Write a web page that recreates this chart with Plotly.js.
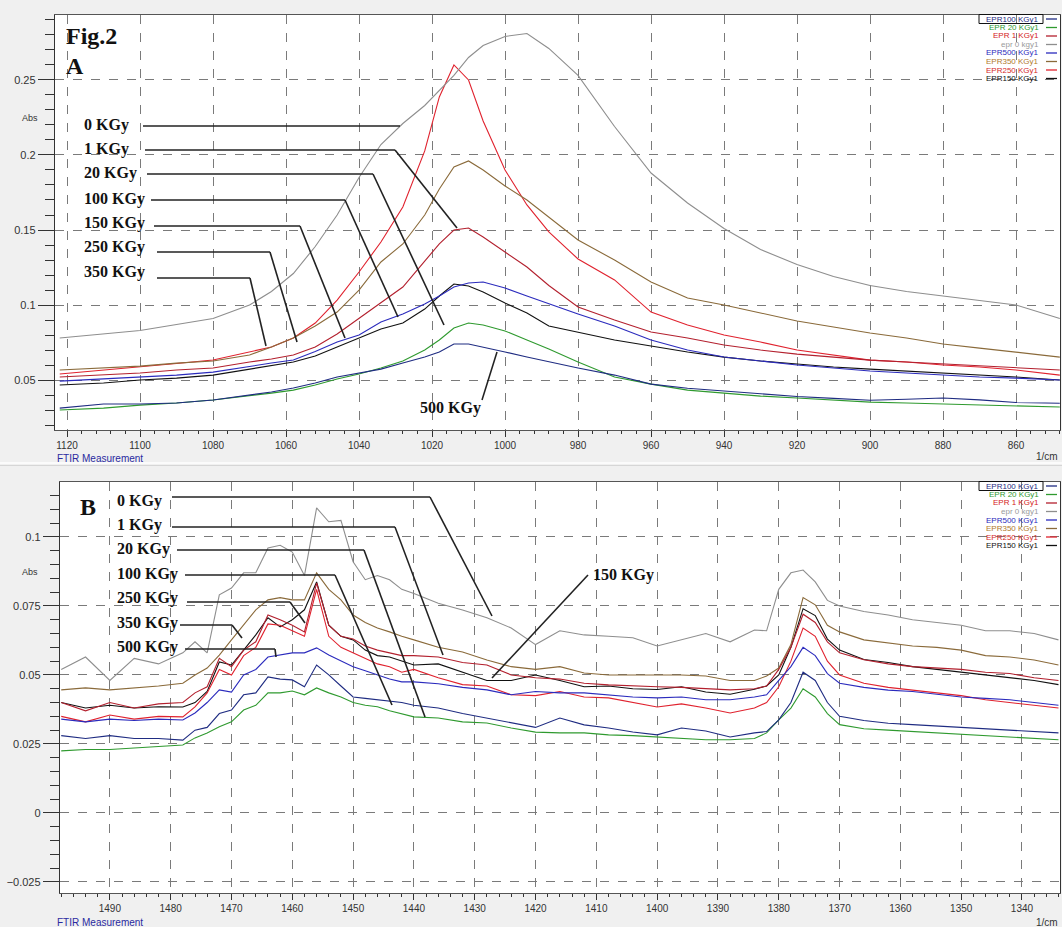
<!DOCTYPE html>
<html><head><meta charset="utf-8">
<script src="https://cdn.plot.ly/plotly-3.0.1.min.js"></script>
<style>html,body{margin:0;padding:0;background:#f0f0f0;}#chart{width:1062px;height:927px;}</style>
</head><body><div id="chart"></div>
<script>
// ---------- Panel A data (wavenumber 1/cm, absorbance) ----------
const wavenumberA = [1122,1110,1100,1090,1080,1070,1064,1058,1052,1046,1040,1034,1028,1022,1018,1014,1010,1006,1000,994,988,980,970,960,950,940,930,920,910,900,890,880,870,860,848];
const absA_0   = [0.078,0.081,0.083,0.087,0.091,0.100,0.109,0.121,0.139,0.160,0.185,0.207,0.221,0.233,0.243,0.253,0.265,0.273,0.279,0.281,0.271,0.253,0.219,0.188,0.168,0.151,0.137,0.127,0.119,0.113,0.109,0.106,0.103,0.100,0.091];
const absA_1   = [0.052,0.0533,0.0547,0.0567,0.058,0.062,0.064,0.0667,0.072,0.0807,0.0913,0.1013,0.112,0.1293,0.1407,0.150,0.1513,0.1453,0.1353,0.1253,0.113,0.0987,0.090,0.082,0.078,0.0733,0.070,0.0673,0.0653,0.0633,0.062,0.0607,0.0593,0.058,0.0567];
const absA_20  = [0.030,0.0313,0.0333,0.0347,0.0367,0.0393,0.0413,0.0433,0.0467,0.0507,0.054,0.058,0.0627,0.070,0.0767,0.0847,0.088,0.0867,0.0827,0.0767,0.0707,0.062,0.052,0.0473,0.0433,0.0413,0.0393,0.038,0.0367,0.0353,0.0347,0.034,0.0333,0.0327,0.032];
const absA_100 = [0.0313,0.034,0.034,0.0347,0.0367,0.040,0.042,0.0447,0.048,0.052,0.0547,0.0573,0.0613,0.0653,0.0687,0.074,0.074,0.072,0.0687,0.0653,0.062,0.058,0.0533,0.0473,0.0445,0.0425,0.0405,0.039,0.0378,0.0365,0.0372,0.038,0.0368,0.035,0.0345];
const absA_150 = [0.0467,0.048,0.050,0.0513,0.0533,0.0573,0.0593,0.062,0.066,0.072,0.078,0.084,0.088,0.0973,0.106,0.114,0.1127,0.1087,0.1013,0.0947,0.086,0.082,0.0767,0.0727,0.0687,0.0653,0.0627,0.0607,0.0587,0.0573,0.056,0.0547,0.0533,0.052,0.050];
const absA_250 = [0.054,0.0565,0.0587,0.061,0.0633,0.0687,0.072,0.078,0.088,0.1033,0.122,0.142,0.1653,0.2027,0.2387,0.260,0.250,0.2227,0.190,0.1667,0.1487,0.1307,0.1167,0.0953,0.0867,0.080,0.0753,0.070,0.0667,0.0633,0.062,0.060,0.0587,0.0567,0.0533];
const absA_350 = [0.0567,0.058,0.0593,0.0613,0.0627,0.0667,0.072,0.078,0.086,0.0953,0.110,0.1287,0.1407,0.160,0.1773,0.192,0.196,0.190,0.1793,0.170,0.1587,0.1433,0.130,0.1153,0.1047,0.100,0.0947,0.0893,0.0853,0.0813,0.078,0.074,0.0713,0.0687,0.0653];
const absA_500 = [0.0493,0.0507,0.052,0.0533,0.0553,0.0593,0.0613,0.0633,0.069,0.0753,0.080,0.0887,0.094,0.1007,0.106,0.112,0.1147,0.1153,0.1113,0.106,0.1007,0.094,0.086,0.0767,0.070,0.0653,0.0627,0.060,0.058,0.056,0.0547,0.0533,0.052,0.0513,0.050];

// ---------- Panel B data ----------
const wavenumberB = [1498,1494,1490,1486,1482,1478,1476,1474,1472,1470,1468,1466,1464,1462,1460,1458,1456,1454,1452,1450,1448,1446,1444,1442,1440,1436,1432,1428,1424,1420,1416,1412,1408,1404,1400,1396,1392,1388,1384,1382,1380,1378,1376,1374,1372,1370,1366,1362,1358,1354,1350,1346,1342,1338,1334];
const absB_0   = [0.052,0.0565,0.048,0.056,0.054,0.058, 0.062,0.058,0.079,0.0815,0.087,0.087,0.096,0.097,0.0945,0.086,0.1105,0.1055,0.106,0.091,0.0845,0.086,0.0845,0.081,0.0795, 0.076,0.0735,0.0707,0.067,0.061,0.066,0.0645,0.064,0.0635,0.0605,0.0627,0.065,0.062,0.0663, 0.066,0.081,0.087,0.088,0.0837,0.077,0.075, 0.073,0.0717,0.070,0.069,0.068,0.066,0.066,0.065,0.0627];
const absB_1   = [0.040,0.037,0.040,0.038,0.0395,0.040, 0.0435,0.0457,0.056,0.053,0.059,0.062,0.0717,0.070,0.068,0.0656,0.0833,0.068,0.064,0.063,0.0605,0.059,0.058,0.057,0.057, 0.0565,0.0545,0.0536,0.050,0.049,0.0485,0.047,0.0464,0.046,0.0457,0.0455,0.045,0.0446,0.045, 0.046,0.052,0.060,0.072,0.069,0.062,0.058, 0.0555,0.054,0.053,0.0525,0.052,0.051,0.0505,0.049,0.048];
const absB_20  = [0.0225,0.023,0.023,0.0235,0.024,0.0246, 0.0272,0.029,0.0312,0.033,0.0373,0.039,0.0435,0.0435,0.0442,0.0428,0.0453,0.0435,0.042,0.040,0.039,0.0385,0.037,0.036,0.0348, 0.0344,0.033,0.0326,0.0308,0.0293,0.029,0.029,0.0283,0.028,0.0275,0.0272,0.0265,0.0265,0.027, 0.029,0.0337,0.038,0.045,0.042,0.036,0.032, 0.0305,0.030,0.0295,0.029,0.0285,0.028,0.0275,0.027,0.0265];
const absB_100 = [0.028,0.027,0.028,0.027,0.027,0.0264, 0.030,0.031,0.036,0.0373,0.0428,0.0435,0.0493,0.0485,0.0482,0.0457,0.0536,0.050,0.046,0.042,0.0415,0.041,0.0405,0.040,0.039, 0.038,0.036,0.0344,0.0326,0.031,0.0344,0.0319,0.0308,0.0293,0.0283,0.0308,0.0297,0.0275,0.029, 0.0295,0.0337,0.040,0.051,0.048,0.040,0.035, 0.0335,0.0325,0.032,0.0315,0.031,0.0305,0.030,0.0295,0.029];
const absB_150 = [0.040,0.038,0.039,0.038,0.0385,0.0384, 0.040,0.044,0.0547,0.0536,0.059,0.0645,0.0707,0.0674,0.070,0.0736,0.0837,0.068,0.064,0.0627,0.059,0.057,0.0565,0.055,0.0536, 0.054,0.051,0.048,0.048,0.050,0.048,0.0457,0.046,0.045,0.0447,0.0457,0.0438,0.043,0.0448, 0.046,0.050,0.060,0.074,0.0715,0.063,0.059, 0.0556,0.0545,0.053,0.052,0.051,0.050,0.049,0.048,0.0465];
const absB_250 = [0.035,0.033,0.0355,0.034,0.035,0.0348, 0.0384,0.0435,0.052,0.050,0.057,0.060,0.0685,0.068,0.066,0.064,0.081,0.064,0.060,0.058,0.056,0.054,0.053,0.051,0.052, 0.049,0.0465,0.046,0.0428,0.0425,0.044,0.042,0.0417,0.040,0.0384,0.0395,0.038,0.0362,0.038, 0.040,0.0457,0.055,0.067,0.064,0.055,0.050, 0.047,0.0455,0.0445,0.0435,0.0425,0.041,0.040,0.039,0.038];
const absB_350 = [0.0446,0.0453,0.0446,0.0453,0.046,0.047, 0.050,0.0525,0.0572,0.0627,0.068,0.0736,0.0772,0.078,0.0772,0.0772,0.087,0.081,0.0772,0.0717,0.069,0.067,0.0656,0.064,0.0627, 0.060,0.0583,0.0554,0.053,0.052,0.053,0.0507,0.050,0.050,0.050,0.050,0.0496,0.048,0.048, 0.0496,0.0525,0.061,0.078,0.0754,0.068,0.0656, 0.0627,0.0616,0.0605,0.060,0.059,0.057,0.0565,0.0554,0.0536];
const absB_500 = [0.034,0.033,0.034,0.0335,0.034,0.0337, 0.0362,0.040,0.0446,0.0438,0.050,0.052,0.0565,0.0572,0.058,0.058,0.0598,0.0572,0.055,0.053,0.0515,0.050,0.0485,0.0475,0.0475, 0.0468,0.0455,0.0446,0.0428,0.044,0.0435,0.0435,0.0428,0.042,0.0417,0.042,0.041,0.041,0.042, 0.0428,0.048,0.053,0.060,0.057,0.0505,0.047, 0.0455,0.0445,0.044,0.043,0.042,0.0415,0.041,0.040,0.039];

// ---------- labels ----------
const legendLabels = ['EPR100 KGy1','EPR 20 KGy1','EPR 1 KGy1','epr 0 kgy1','EPR500 KGy1','EPR350 KGy1','EPR250 KGy1','EPR150 KGy1'];
const doseLabelsA = ['0 KGy','1 KGy','20 KGy','100 KGy','150 KGy','250 KGy','350 KGy','500 KGy'];
const doseLabelsB = ['0 KGy','1 KGy','20 KGy','100 KGy','250 KGy','350 KGy','500 KGy','150 KGy'];

// ---------- styling (legend order) ----------
const seriesStyle = [
  {a: absA_100, b: absB_100, color:'#1f2c82', text:'#1f2c82'},
  {a: absA_20,  b: absB_20,  color:'#2f9a2f', text:'#2f9a2f'},
  {a: absA_1,   b: absB_1,   color:'#b3202e', text:'#d42222'},
  {a: absA_0,   b: absB_0,   color:'#8e8e8e', text:'#9a9a9a'},
  {a: absA_500, b: absB_500, color:'#2b2bbd', text:'#2b2bbd'},
  {a: absA_350, b: absB_350, color:'#8a6a3a', text:'#b07a2e'},
  {a: absA_250, b: absB_250, color:'#e0222e', text:'#d42a2a'},
  {a: absA_150, b: absB_150, color:'#111111', text:'#111111'}
];

const W = 1062, H = 927;
const px = x => x / W, py = y => 1 - y / H;

const traces = [];
for (let k = seriesStyle.length - 1; k >= 0; k--) {
  const s = seriesStyle[k];
  traces.push({x: wavenumberA, y: s.a, xaxis:'x', yaxis:'y', type:'scatter', mode:'lines', name: legendLabels[k],
    line:{color:s.color, width:1.1}, showlegend:false, hoverinfo:'skip'});
  traces.push({x: wavenumberB, y: s.b, xaxis:'x2', yaxis:'y2', type:'scatter', mode:'lines', name: legendLabels[k],
    line:{color:s.color, width:1.1}, showlegend:false, hoverinfo:'skip'});
}

const tickFont = {family:'Liberation Sans, Arial, sans-serif', size:10, color:'#333'};
function xAxis(domain, range, dtick, minorDtick, anchor) {
  return {domain, range, anchor, tickmode:'linear', tick0:0, dtick, ticks:'outside', ticklen:6, tickwidth:1, tickcolor:'#333',
    minor:{ticks:'outside', ticklen:3, tickcolor:'#333', tickmode:'linear', tick0:0, dtick:minorDtick, showgrid:false},
    showgrid:true, gridcolor:'#7a7a7a', griddash:'dash', gridwidth:1, zeroline:false,
    showline:true, linecolor:'#555', linewidth:1, mirror:true, tickfont:tickFont, fixedrange:true};
}
function yAxis(domain, range, dtick, minorDtick, anchor) {
  return {domain, range, anchor, tickmode:'linear', tick0:0, dtick, ticks:'outside', ticklen:16, tickwidth:1, tickcolor:'#333',
    minor:{ticks:'outside', ticklen:9, tickcolor:'#333', tickmode:'linear', tick0:0, dtick:minorDtick, showgrid:false},
    showgrid:true, gridcolor:'#7a7a7a', griddash:'dash', gridwidth:1, zeroline:false,
    showline:true, linecolor:'#333', linewidth:1.2, mirror:true, tickfont:{...tickFont, size:11}, fixedrange:true};
}

// leader lines (pixel positions of the figure)
const leadersA = [
  [[143,126],[400,126]],
  [[145,150],[395,150],[457,228]],
  [[147,174],[373,174],[444,325]],
  [[151,200],[345,200],[398,317]],
  [[154,226],[300,226],[345,338]],
  [[157,252],[270,252],[297,342]],
  [[157,278],[250,278],[266,346]],
  [[482,400],[497,352]]
];
const leadersB = [
  [[172,497],[430,497],[492,616]],
  [[172,527],[395,527],[443,655]],
  [[177,550],[364,550],[425,717]],
  [[185,575],[335,575],[392,705]],
  [[187,602],[290,602],[305,623]],
  [[180,625],[232,625],[242,638]],
  [[185,649],[275,649],[276,657]],
  [[588,575],[492,678]]
];
const labelPosA = [[82,125],[82,149],[82,173],[82,199],[82,223],[82,247],[82,272],[418,408]];
const labelPosB = [[115,501],[115,525],[115,549],[115,574],[115,598],[115,623],[115,647],[591,575]];

const shapes = [];
const annotations = [];
function addPath(pts) {
  for (let i = 0; i < pts.length - 1; i++) {
    shapes.push({type:'line', xref:'paper', yref:'paper', x0:px(pts[i][0]), y0:py(pts[i][1]), x1:px(pts[i+1][0]), y1:py(pts[i+1][1]),
      line:{color:'#222', width:1.6}, layer:'above'});
  }
}
leadersA.forEach(addPath);
leadersB.forEach(addPath);

function txt(x, y, text, font, xanchor) {
  annotations.push({xref:'paper', yref:'paper', x:px(x), y:py(y), text, showarrow:false, xanchor:xanchor||'left', yanchor:'middle', font});
}
const serifBold = {family:'Liberation Serif, Times New Roman, serif', size:16, color:'#111'};
doseLabelsA.forEach((t,i) => txt(labelPosA[i][0], labelPosA[i][1], '<b>'+t+'</b>', serifBold));
doseLabelsB.forEach((t,i) => txt(labelPosB[i][0], labelPosB[i][1], '<b>'+t+'</b>', serifBold));
txt(64, 36, '<b>Fig.2</b>', {...serifBold, size:24});
txt(64, 66, '<b>A</b>', {...serifBold, size:24});
txt(78, 507, '<b>B</b>', {...serifBold, size:24});

const smallFont = {family:'Liberation Sans, Arial, sans-serif', size:9, color:'#333'};
txt(30, 118, 'Abs', smallFont, 'center');
txt(30, 572, 'Abs', smallFont, 'center');
const blueFont = {family:'Liberation Sans, Arial, sans-serif', size:10, color:'#2a2aa0'};
txt(55, 458, 'FTIR Measurement', blueFont);
txt(55, 922, 'FTIR Measurement', blueFont);
txt(1060, 457, '1/cm', {...tickFont, size:10}, 'right');
txt(1060, 922, '1/cm', {...tickFont, size:10}, 'right');

// custom legends (text right-aligned, sample on the right)
function legend(top) {
  legendLabels.forEach((lab, i) => {
    const y = top + i * 8.5;
    txt(1041, y, lab, {family:'Liberation Sans, Arial, sans-serif', size:8, color:seriesStyle[i].text}, 'right');
    shapes.push({type:'line', xref:'paper', yref:'paper', x0:px(1046), x1:px(1057), y0:py(y), y1:py(y),
      line:{color:seriesStyle[i].color, width:1.3}, layer:'above'});
  });
  shapes.push({type:'rect', xref:'paper', yref:'paper', x0:px(979), x1:px(1043), y0:py(top-4.5), y1:py(top+4.5),
    line:{color:'#111', width:1}, fillcolor:'rgba(0,0,0,0)', layer:'above'});
}
legend(19);
legend(486);

// panel separator
shapes.push({type:'line', xref:'paper', yref:'paper', x0:0, x1:1, y0:py(463), y1:py(463), line:{color:'#fbfbfb', width:2}, layer:'below'});
shapes.push({type:'line', xref:'paper', yref:'paper', x0:0, x1:1, y0:py(465.5), y1:py(465.5), line:{color:'#d6d6d6', width:1}, layer:'below'});

const layout = {
  width: W, height: H,
  margin:{l:0, r:0, t:0, b:0},
  paper_bgcolor:'#f0f0f0', plot_bgcolor:'#ffffff',
  showlegend:false, hovermode:false,
  xaxis: xAxis([px(55), px(1060)], [1123.3, 847.95], 20, 4, 'y'),
  yaxis: yAxis([py(430), py(15)], [0.0167, 0.2933], 0.05, 0.01, 'x'),
  xaxis2: xAxis([px(60), px(1060)], [1498.2, 1333.75], 10, 2, 'y2'),
  yaxis2: yAxis([py(893), py(482)], [-0.029, 0.1199], 0.025, 0.005, 'x2'),
  shapes, annotations
};

Plotly.newPlot('chart', traces, layout, {staticPlot:true, displayModeBar:false});
</script>
</body></html>
